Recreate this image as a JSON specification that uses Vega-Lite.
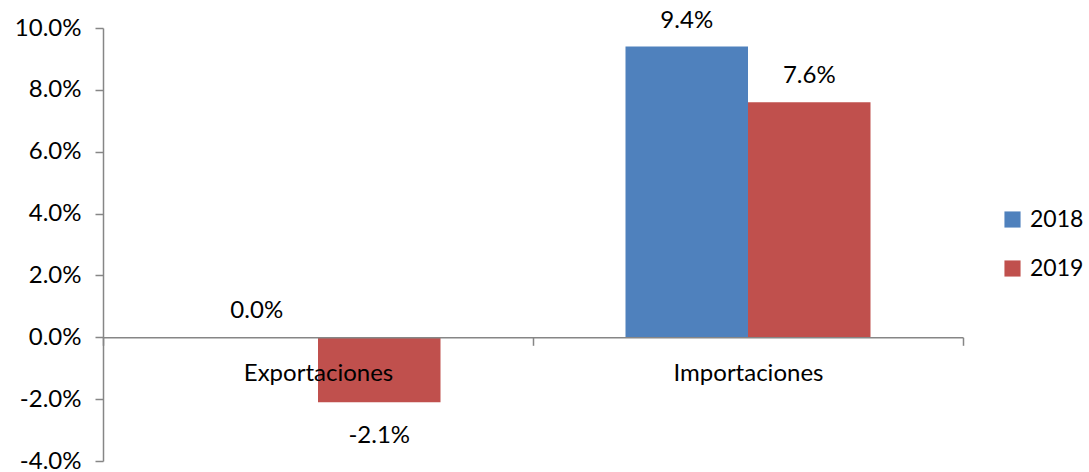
{
  "$schema": "https://vega.github.io/schema/vega-lite/v6.json",
  "autosize": "none",
  "width": 860,
  "height": 433,
  "padding": {"left": 103, "top": 28, "right": 126, "bottom": 11},
  "background": "white",
  "config": {
    "font": "Lato",
    "view": {"stroke": null},
    "locale": {
      "number": {
        "decimal": ".",
        "thousands": ",",
        "grouping": [3],
        "currency": ["$", ""],
        "minus": "-"
      }
    }
  },
  "data": {
    "values": [
      {"categoria": "Exportaciones", "anio": "2018", "valor": 0.0},
      {"categoria": "Exportaciones", "anio": "2019", "valor": -0.021},
      {"categoria": "Importaciones", "anio": "2018", "valor": 0.094},
      {"categoria": "Importaciones", "anio": "2019", "valor": 0.076}
    ]
  },
  "encoding": {
    "x": {
      "field": "categoria",
      "type": "nominal",
      "sort": ["Exportaciones", "Importaciones"],
      "scale": {"paddingInner": 0, "paddingOuter": 0},
      "axis": {
        "title": null,
        "labelAngle": 0,
        "labelFontSize": 24,
        "labelColor": "#000000",
        "labelPadding": 16,
        "labelFont": "Lato",
        "offset": -123.7,
        "domainColor": "#868686",
        "domainWidth": 1.5,
        "tickColor": "#868686",
        "tickWidth": 1.5,
        "tickSize": 8,
        "tickBand": "extent",
        "zindex": 2
      }
    },
    "xOffset": {"field": "anio", "type": "nominal", "scale": {"paddingInner": 0, "paddingOuter": 0.755}},
    "y": {
      "field": "valor",
      "type": "quantitative",
      "scale": {"domain": [-0.04, 0.1], "nice": false},
      "axis": {
        "title": null,
        "format": ".1%",
        "values": [-0.04, -0.02, 0, 0.02, 0.04, 0.06, 0.08, 0.1],
        "grid": false,
        "labelFontSize": 24,
        "labelColor": "#000000",
        "labelPadding": 14,
        "labelFont": "Lato",
        "domainColor": "#868686",
        "domainWidth": 1.5,
        "tickColor": "#868686",
        "tickWidth": 1.5,
        "tickSize": 8
      }
    }
  },
  "layer": [
    {
      "mark": {"type": "bar"},
      "encoding": {
        "color": {
          "field": "anio",
          "type": "nominal",
          "scale": {"domain": ["2018", "2019"], "range": ["#4F81BD", "#C0504D"]},
          "legend": {
            "title": null,
            "orient": "none",
            "legendX": 898,
            "legendY": 180,
            "symbolType": "square",
            "symbolSize": 260,
            "symbolStrokeWidth": 0,
            "labelFontSize": 23,
            "labelColor": "#000000",
            "labelFont": "Lato",
            "rowPadding": 25,
            "labelOffset": 6
          }
        }
      }
    },
    {
      "transform": [{"filter": "datum.valor >= 0"}],
      "mark": {"type": "text", "baseline": "bottom", "dy": -14, "fontSize": 24, "color": "#000000"},
      "encoding": {"text": {"field": "valor", "type": "quantitative", "format": ".1%"}}
    },
    {
      "transform": [{"filter": "datum.valor < 0"}],
      "mark": {"type": "text", "baseline": "top", "dy": 22, "fontSize": 24, "color": "#000000"},
      "encoding": {"text": {"field": "valor", "type": "quantitative", "format": ".1%"}}
    }
  ]
}
